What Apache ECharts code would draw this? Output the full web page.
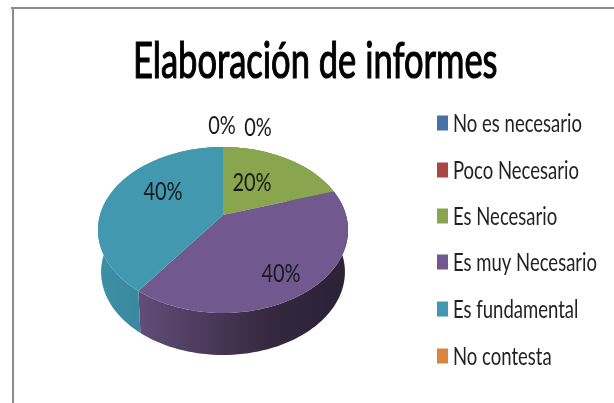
<!DOCTYPE html>
<html><head><meta charset="utf-8">
<style>html,body{margin:0;padding:0;background:#fff}#c{width:614px;height:403px}</style>
<script src="https://cdn.jsdelivr.net/npm/echarts@6/dist/echarts.min.js"></script>
</head><body><div id="c"></div>
<script>
const titleText = 'Elaboración de informes';
const categories = ['No es necesario','Poco Necesario','Es Necesario','Es muy Necesario','Es fundamental','No contesta'];
const shares = [0,0,20,40,40,null];
const colors = ['#4572a7','#aa4643','#89a54e','#71588f','#4198af','#db843d'];
const sideColors = [null,null,
  [[0,'#6a8040'],[1,'#5a6e36']],
  [[0,'#614d79'],[0.62,'#35283f'],[1,'#2b2236']],
  [[0,'#3d90a7'],[1,'#32798b']],
  null];
const labelOffsets = [[-1,-89],[35,-87],[29,-32],[58,59],[-60,-23],[0,0]];

const FONT = 'Lato,"Open Sans",sans-serif';
const cx = 223, apexY = 215, A = 41.4, C = -0.1807, K = 123, DEPTH = 42, BOTTOM_SCALE = 0.975;
function topPt(deg){
  const t = deg*Math.PI/180, u = Math.sin(t), v = -Math.cos(t), d = 1 + C*v;
  return [cx + K*u/d, (A*v + apexY)/d];
}
function bottomPt(deg){
  const p = topPt(deg);
  return [cx + (p[0]-cx)*BOTTOM_SCALE, p[1] + DEPTH];
}
const total = shares.reduce((a,b)=>a+(b||0),0);
function arc(fn,a,b){
  const n = Math.max(2,Math.ceil(Math.abs(b-a)/2)), out=[];
  for(let i=0;i<=n;i++) out.push(fn(a+(b-a)*i/n));
  return out;
}
function startAngle(i){
  let s=0; for(let j=0;j<i;j++) s+=(shares[j]||0);
  return s/total*360;
}
function sideItem(i,start,end){
  const tops = arc(topPt,start,end), bots = arc(bottomPt,end,start);
  return {type:'polygon',shape:{points:tops.concat(bots)},z2:1,
    style:{fill:new echarts.graphic.LinearGradient(0,0,1,0,
      sideColors[i].map(s=>({offset:s[0],color:s[1]})))}};
}
function render(i){
  return function(params,api){
    const val = api.value(0);
    const children = [];
    if(val>0){
      const start = startAngle(i), end = start + val/total*360;
      children.push(sideItem(i,start,end));
      const pts = [[cx,apexY]].concat(arc(topPt,start,end));
      children.push({type:'polygon',shape:{points:pts},z2:2,style:{fill:colors[i]}});
    }
    if(shares[i]!==null){
      children.push({type:'text',z2:5,
        x:cx+labelOffsets[i][0],y:apexY+labelOffsets[i][1],scaleX:0.8,
        style:{text:Math.round(val)+'%',align:'center',verticalAlign:'middle',
        fill:'#1a1a1a',font:'25px '+FONT}});
    }
    return {type:'group',children};
  };
}
const series = categories.map((name,i)=>({
  type:'custom',name,coordinateSystem:'none',silent:true,
  itemStyle:{color:colors[i]},
  renderItem:render(i),clip:false,
  data:[[shares[i]===null?0:shares[i]]],
  animation:false
}));
const legendY = [123,170,216,262,309,356];
const legendEls = [];
categories.forEach((name,i)=>{
  legendEls.push({type:'rect',silent:true,shape:{x:437,y:legendY[i]-7.5,width:11,height:15},style:{fill:colors[i]}});
  legendEls.push({type:'text',silent:true,x:453,y:legendY[i]+1,scaleX:0.74,
    style:{text:name,font:'25px '+FONT,fill:'#222',align:'left',verticalAlign:'middle'}});
});
const chart = echarts.init(document.getElementById('c'),null,{renderer:'canvas'});
chart.setOption({
  animation:false,
  backgroundColor:'#fff',
  graphic:[
    {type:'rect',shape:{x:11,y:7,width:603,height:2},style:{fill:'#8c8c8c'},silent:true},
    {type:'rect',shape:{x:12,y:7,width:2,height:396},style:{fill:'#8c8c8c'},silent:true},
    {type:'text',silent:true,x:133,y:62,scaleX:0.69,
     style:{text:titleText,font:'50px '+FONT,fill:'#000',stroke:'#000',lineWidth:1.2,align:'left',verticalAlign:'middle'}}
  ].concat(legendEls),
  series
});
</script></body></html>
